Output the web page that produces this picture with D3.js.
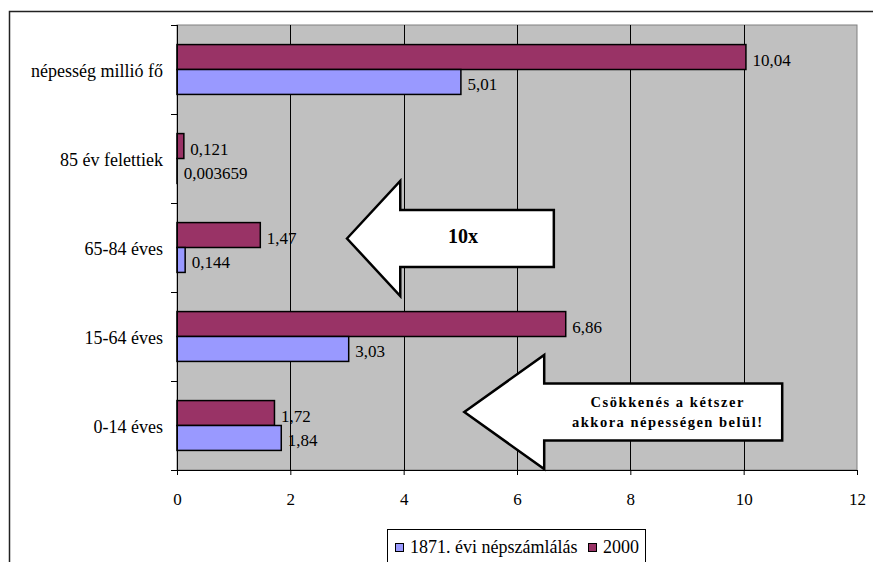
<!DOCTYPE html>
<html>
<head>
<meta charset="utf-8">
<script src="https://cdn.jsdelivr.net/npm/d3@7"></script>
<style>
  html, body { margin: 0; padding: 0; background: #fff; }
  svg text { font-family: "Liberation Serif", "Times New Roman", serif; }
</style>
</head>
<body>
<svg id="chart" width="873" height="562"></svg>
<script>
// Age groups, top to bottom
const categories = ["népesség millió fő", "85 év felettiek", "65-84 éves", "15-64 éves", "0-14 éves"];
const seriesNames = ["1871. évi népszámlálás", "2000"];
const values1871 = [5.01, 0.003659, 0.144, 3.03, 1.84];
const values2000 = [10.04, 0.121, 1.47, 6.86, 1.72];
const valueLabels1871 = ["5,01", "0,003659", "0,144", "3,03", "1,84"];
const valueLabels2000 = ["10,04", "0,121", "1,47", "6,86", "1,72"];
const xTicks = [0, 2, 4, 6, 8, 10, 12];
const colors = { "1871. évi népszámlálás": "#9999FF", "2000": "#993366" };

const FONT = "'Liberation Serif', 'Times New Roman', serif";
const svg = d3.select("#chart");

// Plot geometry
const plot = { left: 177, right: 857, top: 25, bottom: 470 };

const x = d3.scaleLinear().domain([0, 12]).range([plot.left, plot.right]);
const y = d3.scaleBand().domain(categories).range([plot.top, plot.bottom])
  .paddingInner(0.44).paddingOuter(0.22);
// 2000 drawn above 1871 inside each group
const ySub = d3.scaleBand().domain(["2000", "1871. évi népszámlálás"]).range([0, y.bandwidth()]);

// Outer chart frame
svg.append("rect")
  .attr("x", 9.5).attr("y", 11.5).attr("width", 880).attr("height", 570)
  .attr("fill", "none").attr("stroke", "#222").attr("stroke-width", 1.5);

// Plot background
svg.append("rect")
  .attr("x", plot.left).attr("y", plot.top)
  .attr("width", plot.right - plot.left).attr("height", plot.bottom - plot.top)
  .attr("fill", "#C0C0C0").attr("stroke", "#808080").attr("stroke-width", 1);

// Vertical gridlines
svg.append("g").selectAll("line")
  .data(xTicks.filter(t => t > 0 && t < 12))
  .join("line")
  .attr("x1", d => Math.round(x(d)) + 0.5).attr("x2", d => Math.round(x(d)) + 0.5)
  .attr("y1", plot.top).attr("y2", plot.bottom)
  .attr("stroke", "#000").attr("stroke-width", 1);

// Rows of data
const rows = categories.map((c, i) => ({
  cat: c,
  bars: [
    { s: "2000", v: values2000[i], label: valueLabels2000[i] },
    { s: "1871. évi népszámlálás", v: values1871[i], label: valueLabels1871[i] }
  ]
}));

const groups = svg.append("g").selectAll("g")
  .data(rows).join("g")
  .attr("transform", d => `translate(0,${y(d.cat)})`);

groups.selectAll("rect")
  .data(d => d.bars).join("rect")
  .attr("x", x(0))
  .attr("y", d => ySub(d.s))
  .attr("width", d => Math.max(0, x(d.v) - x(0)))
  .attr("height", ySub.bandwidth())
  .attr("fill", d => colors[d.s])
  .attr("stroke", "#000").attr("stroke-width", 1.5);

groups.selectAll("text")
  .data(d => d.bars).join("text")
  .attr("x", d => x(d.v) + 6.5)
  .attr("y", d => ySub(d.s) + ySub.bandwidth() / 2 + 8.5)
  .style("font-family", FONT)
  .attr("font-size", 17)
  .attr("fill", "#000")
  .text(d => d.label);

// X axis
const xAxis = d3.axisBottom(x).tickValues(xTicks).tickSize(5).tickPadding(18)
  .tickFormat(d3.format("d"));
const gx = svg.append("g").attr("transform", `translate(0,${plot.bottom})`).call(xAxis);
gx.select(".domain").attr("d", `M${plot.left - 6},0.5H${plot.right}`).attr("stroke", "#000");
gx.selectAll(".tick line").attr("stroke", "#000");
gx.selectAll(".tick text").attr("font-size", 17).style("font-family", FONT).attr("fill", "#000");

// Y axis
const yAxis = d3.axisLeft(y).tickSize(0).tickPadding(14);
const gy = svg.append("g").attr("transform", `translate(${plot.left},0)`).call(yAxis);
gy.select(".domain").attr("d", `M0.5,${plot.top}V${plot.bottom}`).attr("stroke", "#000");
gy.selectAll(".tick text").attr("font-size", 18).style("font-family", FONT).attr("fill", "#000")
  .attr("dy", null).attr("y", 7.5);
// Category separator ticks
const boundaries = d3.range(categories.length + 1).map(i => plot.top + i * y.step());
svg.append("g").selectAll("line").data(boundaries).join("line")
  .attr("x1", plot.left - 6).attr("x2", plot.left)
  .attr("y1", d => Math.round(d) + 0.5).attr("y2", d => Math.round(d) + 0.5)
  .attr("stroke", "#000");

// Block arrow annotations (x in data units, y relative to a category centre)
function arrowPath(a) {
  const cy = y(a.cat) + y.bandwidth() / 2 + a.dy;
  const pts = [
    [x(a.tip), cy],
    [x(a.head), cy - a.headHalf],
    [x(a.head), cy - a.shaftHalf],
    [x(a.end), cy - a.shaftHalf],
    [x(a.end), cy + a.shaftHalf],
    [x(a.head), cy + a.shaftHalf],
    [x(a.head), cy + a.headHalf]
  ];
  return d3.line()(pts) + "Z";
}
const arrows = [
  { cat: "65-84 éves", dy: -9, tip: 3.0, head: 3.94, end: 6.65, shaftHalf: 28.5, headHalf: 57.5,
    lines: ["10x"], widths: [null], size: 20, cx: 463, base: [243] },
  { cat: "0-14 éves", dy: -13.5, tip: 5.07, head: 6.48, end: 10.68, shaftHalf: 28.5, headHalf: 57,
    lines: ["Csökkenés a kétszer", "akkora népességen belül!"], widths: [153, 190], size: 14.5,
    cx: 667, base: [407, 427] }
];
arrows.forEach(a => {
  svg.append("path").attr("d", arrowPath(a))
    .attr("fill", "#fff").attr("stroke", "#000").attr("stroke-width", 2.5)
    .attr("stroke-linejoin", "miter");
  a.lines.forEach((ln, i) => {
    const t = svg.append("text")
      .attr("x", a.cx)
      .attr("y", a.base[i])
      .attr("text-anchor", "middle")
      .style("font-family", FONT)
      .attr("font-weight", "bold")
      .attr("font-size", a.size)
      .text(ln);
    if (a.widths[i]) t.attr("textLength", a.widths[i]).attr("lengthAdjust", "spacing");
  });
});

// Legend
const legend = svg.append("g");
legend.append("rect").attr("x", 387.5).attr("y", 529.5).attr("width", 258).attr("height", 40)
  .attr("fill", "#fff").attr("stroke", "#000").attr("stroke-width", 1);
const legendItems = [
  { name: seriesNames[0], sx: 395, tx: 410 },
  { name: seriesNames[1], sx: 588, tx: 603 }
];
legendItems.forEach(it => {
  legend.append("rect").attr("x", it.sx + 0.5).attr("y", 543.5).attr("width", 8).attr("height", 8)
    .attr("fill", colors[it.name]).attr("stroke", "#000").attr("stroke-width", 1);
  legend.append("text").attr("x", it.tx).attr("y", 553).style("font-family", FONT)
    .attr("font-size", 18).text(it.name);
});
</script>
</body>
</html>
